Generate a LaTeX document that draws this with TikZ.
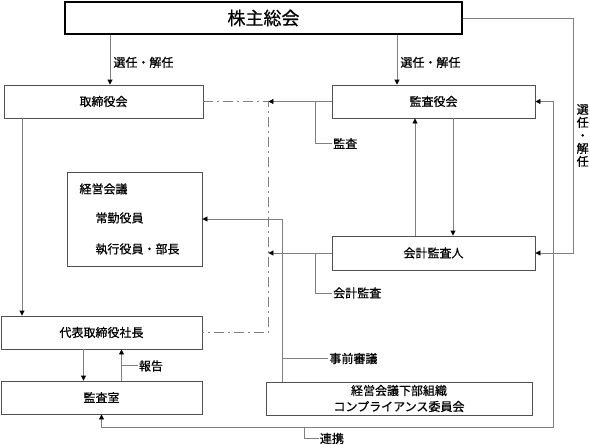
\documentclass[tikz,border=0pt]{standalone}
\usepackage{fontspec}
\setmainfont[FakeBold=0.6]{Noto Sans CJK JP}
\usetikzlibrary{arrows.meta}
\definecolor{boxgray}{HTML}{505050}
\definecolor{linegray}{HTML}{808080}

\begin{document}
\begin{tikzpicture}[
  x=1pt, y=-1pt,
  box/.style={rectangle, draw=boxgray, line width=0.9pt, minimum height=33pt, inner sep=1pt},
  line/.style={draw=linegray, line width=0.9pt},
  arr/.style={line, -{Triangle[length=5pt,width=5pt,color=black]}},
  both/.style={line, {Triangle[length=5pt,width=5pt,color=black]}-{Triangle[length=5pt,width=5pt,color=black]}},
  dashdot/.style={line, dash pattern=on 10pt off 4pt on 2pt off 4pt},
  lbl/.style={anchor=west, inner sep=1pt},
  font=\fontsize{12}{14}\selectfont
]
\useasboundingbox (0,0) rectangle (590,445);

\node[box, draw=black, line width=2.5pt, minimum width=397pt, minimum height=32pt, font=\fontsize{18}{20}\selectfont] (meeting) at (263.5,18) {株主総会};
\node[box, minimum width=199pt, below of=meeting, node distance=83.5pt, xshift=-160pt] (board) {取締役会};
\node[box, minimum width=203pt, right of=board, node distance=330pt] (kansa) {監査役会};
\node[box, minimum width=203pt, minimum height=34pt, below of=kansa, node distance=151.5pt] (auditor) {会計監査人};
\node[box, minimum width=135pt, minimum height=94pt, text width=110pt, align=left, below of=board, node distance=117.5pt, xshift=31pt] (keiei) {経営会議\\[15pt]\hspace*{16pt}常勤役員\\[17pt]\hspace*{16pt}執行役員・部長};
\node[box, minimum width=201pt, below of=board, node distance=231pt, xshift=-2pt] (ceo) {代表取締役社長};
\node[box, minimum width=201pt, below of=ceo, node distance=65pt] (office) {監査室};
\node[box, minimum width=266pt, align=center, right of=office, node distance=297.5pt, yshift=-1pt, font=\fontsize{12}{16}\selectfont] (comp) {経営会議下部組織\\コンプライアンス委員会};

\coordinate (boardin) at ([xshift=6.5pt]board.north);
\coordinate (kansain) at ([xshift=-36.5pt]kansa.north);
\coordinate (lbot) at ([yshift=-13pt]office.south);

\draw[arr] (boardin |- meeting.south) -- node[lbl, pos=0.55, xshift=2pt] {選任・解任} (boardin);
\draw[arr] (kansain |- meeting.south) -- node[lbl, pos=0.55, xshift=2pt] {選任・解任} (kansain);
\draw[arr] (meeting.east) -- ++(110,0) |- node[pos=0.25, right, inner sep=3pt, align=center, font=\fontsize{12}{13}\selectfont] {選\\任\\・\\解\\任} (auditor.east);

\draw[dashdot] (board.east) -- ++(65,0) coordinate (dtop) |- (ceo.east);
\draw[arr] (kansa.west) -- coordinate[pos=0.25] (kbranch) (kansa.west -| dtop);
\draw[line] (kbranch) |- ++(16,42) node[lbl] {監査};
\draw[arr] ([xshift=19.5pt]kansa.south) -- ([xshift=19.5pt]auditor.north);
\draw[arr] ([xshift=-18.5pt]auditor.north) -- ([xshift=-18.5pt]kansa.south);
\draw[arr] (auditor.west) -- coordinate[pos=0.25] (abranch) (auditor.west -| dtop);
\draw[line] (abranch) |- ++(16,40) node[lbl] {会計監査};

\draw[arr] ([xshift=-117pt]comp.north) |- (keiei.east);
\draw[line] ([xshift=-117pt,yshift=23pt]comp.north) -- ++(46,0) node[lbl] {事前審議};

\draw[arr] ([xshift=-81.5pt]board.south) -- ([xshift=-81.5pt]board.south |- ceo.north);
\draw[arr] ([xshift=-18pt]ceo.south) -- ([xshift=-18pt]office.north);
\draw[arr] ([xshift=20pt]office.north) -- coordinate[pos=0.47] (rbranch) ([xshift=20pt]ceo.south);
\draw[line] (rbranch) -- ++(16,0) node[lbl] {報告};

\draw[both] (kansa.east) -- ++(18,0) |- (lbot) -- (office.south);
\draw[line] ([xshift=203pt]lbot) |- ++(14,11) node[lbl] {連携};
\end{tikzpicture}
\end{document}
